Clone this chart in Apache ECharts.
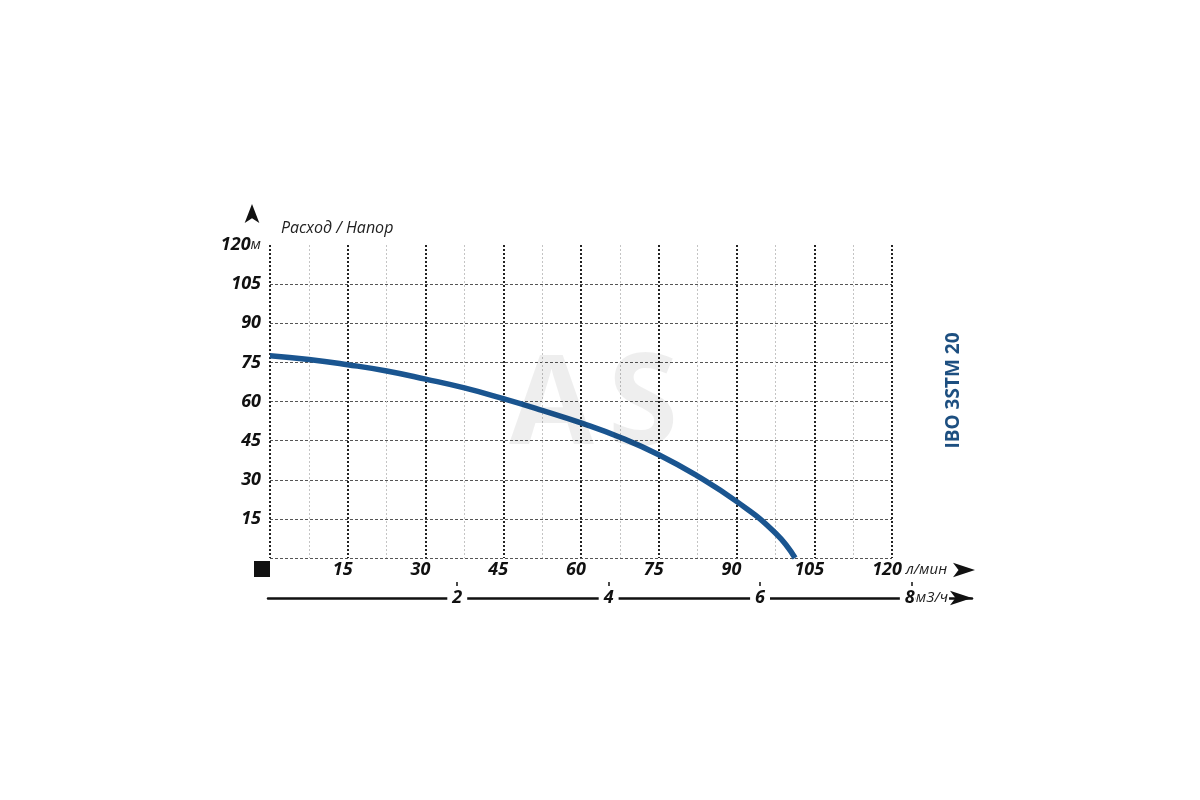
<!DOCTYPE html>
<html>
<head>
<meta charset="utf-8">
<title>IBO 3STM 20</title>
<script src="https://cdn.jsdelivr.net/npm/echarts@6/dist/echarts.min.js"></script>
<style>
html,body{margin:0;padding:0;background:#fff;}
#chart{width:1200px;height:800px;}
</style>
</head>
<body>
<div id="chart"></div>
<script>
// расход, л/мин
var flowLpm = [0, 7.5, 15, 22.5, 30, 37.5, 45, 52.5, 60, 67.5, 75, 82.5, 90, 97.5, 101.3];
// напор, м
var headM = [77.5, 76.1, 74.1, 71.7, 68.6, 65.2, 61.1, 56.6, 51.8, 46.3, 39.6, 31.4, 21.7, 9.6, 0];
// подписи второй шкалы, м3/ч
var m3hTicks = [2, 4, 6, 8];

var FONT = 'Open Sans';

function createCurve(id) {
	var dom = document.getElementById(id);
	var myChart = echarts.init(dom);
	var pts = new Array();
	for (var i = 0; i < flowLpm.length; i++) {
		pts[i] = [flowLpm[i], headM[i]];
	}
	var numStyle = {fontFamily: FONT, fontSize: 18, fontWeight: 'bold', fontStyle: 'italic', color: '#111'};
	var unitStyle = {fontFamily: FONT, fontSize: 15, fontStyle: 'italic', fontWeight: 'normal', color: '#222'};
	var noArrowAxis = {axisTick: {show: false}, axisLabel: {show: false}, splitLine: {show: false}};
	var wm = 'rgba(0,0,0,0.065)';

	var option = {
		animation: false,
		backgroundColor: '#fff',
		title: [{
			text: '{a|A}{b|S}', left: 504, top: 340,
			textStyle: {
				rich: {
					a: {fontFamily: FONT, fontSize: 123, fontWeight: 'bold', color: wm, padding: [0, 14, 0, 0]},
					b: {fontFamily: FONT, fontSize: 128, fontWeight: 'bold', color: wm}
				}
			}
		}, {
			text: 'Расход / Напор', left: 276, top: 215,
			textStyle: {fontFamily: FONT, fontSize: 16, fontStyle: 'italic', fontWeight: 'normal', color: '#222'}
		}],
		grid: [
			{left: 270, right: 308, top: 245, bottom: 242},
			{left: 270, right: 225, top: 569, height: 1},
			{left: 268, right: 228, top: 597, height: 1},
			{left: 252, width: 1, top: 204, height: 20}
		],
		xAxis: [{
			gridIndex: 0, type: 'value', min: 0, max: 120, interval: 15,
			axisLine: {show: false},
			axisTick: {show: false},
			minorTick: {show: false, splitNumber: 2},
			minorSplitLine: {show: true, lineStyle: {color: '#c4c4c4', width: 1, type: [2, 2]}},
			splitLine: {show: true, lineStyle: {color: '#222', width: 2, type: [2, 2]}},
			axisLabel: {
				margin: 3,
				formatter: function (v) {
					if (v === 0) return '{sq|}{sp|}';
					return '{n|' + v + '}';
				},
				rich: {
					n: echarts.util.extend({padding: [0, 10, 0, 0]}, numStyle),
					sq: {width: 16, height: 16, backgroundColor: '#111'},
					sp: {width: 16, height: 16}
				}
			},
			name: 'л/мин', nameLocation: 'end', nameGap: 13,
			nameTextStyle: {fontFamily: FONT, fontSize: 15, fontStyle: 'italic', color: '#222', verticalAlign: 'top', padding: [4, 0, 0, 0]}
		}, echarts.util.merge({
			gridIndex: 1, type: 'value', min: 0, max: 1,
			axisLine: {show: true, symbol: ['none', 'arrow'], symbolSize: [11, 22], lineStyle: {width: 0, color: '#111'}}
		}, noArrowAxis), {
			gridIndex: 2, type: 'value', min: -0.5, max: 8.8,
			axisLine: {show: true, symbol: ['none', 'arrow'], symbolSize: [11, 22], lineStyle: {color: '#111', width: 2.5}},
			axisTick: {show: true, inside: true, length: 16, customValues: m3hTicks, lineStyle: {color: '#111', width: 1.5}},
			splitLine: {show: false},
			axisLabel: {
				customValues: m3hTicks,
				margin: 0,
				verticalAlign: 'middle',
				formatter: function (v) {
					if (v === 8) return '{sp|}{e|8}{u|м3/ч}';
					return '{b|' + v + '}';
				},
				rich: {
					b: echarts.util.extend({backgroundColor: '#fff', padding: [3, 5]}, numStyle),
					e: echarts.util.extend({backgroundColor: '#fff', padding: [3, 1, 3, 5]}, numStyle),
					u: echarts.util.extend({backgroundColor: '#fff', padding: [3, 1, 3, 0], fontSize: 14}, unitStyle),
					sp: {width: 26}
				}
			}
		}, {gridIndex: 3, show: false}],
		yAxis: [{
			gridIndex: 0, type: 'value', min: 0, max: 120, interval: 15,
			axisLine: {show: false},
			axisTick: {show: false},
			splitLine: {show: true, showMaxLine: false, lineStyle: {color: '#555', width: 1, type: [3, 2]}},
			axisLabel: {
				margin: 9,
				formatter: function (v) {
					if (v === 0) return '';
					if (v === 120) return '{n|120}{u|м}';
					return '{n|' + v + '}';
				},
				rich: {n: numStyle, u: unitStyle}
			}
		}, {
			gridIndex: 0, type: 'value', position: 'right', min: 0, max: 120,
			axisLine: {show: false}, axisTick: {show: false}, axisLabel: {show: false}, splitLine: {show: false},
			name: 'IBO 3STM 20', nameLocation: 'middle', nameRotate: 90, nameGap: 52,
			nameTextStyle: {fontFamily: FONT, fontSize: 19, fontWeight: 'bold', color: '#1d4f80', padding: [0, 0, 0, 22]}
		}, {gridIndex: 1, show: false}, {gridIndex: 2, show: false}, echarts.util.merge({
			gridIndex: 3, type: 'value', min: 0, max: 1,
			axisLine: {show: true, symbol: ['none', 'arrow'], symbolSize: [11, 19], lineStyle: {width: 0, color: '#111'}}
		}, noArrowAxis)],
		series: [{
			name: 'IBO 3STM 20',
			type: 'line',
			xAxisIndex: 0,
			yAxisIndex: 0,
			z: 5,
			data: pts,
			smooth: true,
			showSymbol: false,
			lineStyle: {color: '#1a5590', width: 5.5, cap: 'butt'}
		}]
	};
	if (option && typeof option === "object") {
		myChart.setOption(option, true);
	}
}
createCurve('chart');
</script>
</body>
</html>
